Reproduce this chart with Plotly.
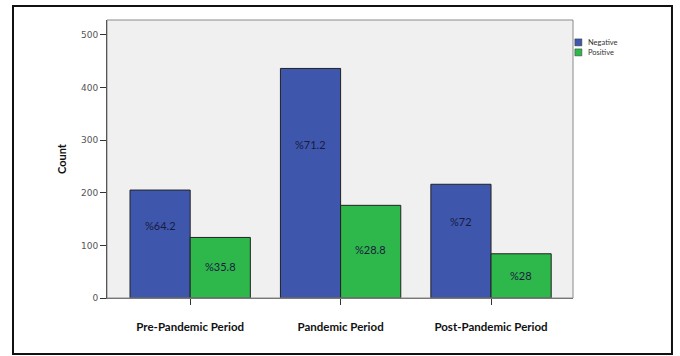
import plotly.graph_objects as go

categories = ["Pre-Pandemic Period", "Pandemic Period", "Post-Pandemic Period"]
negative = [205, 436, 216]
positive = [115, 176, 84]
neg_pct = ["%64.2", "%71.2", "%72"]
pos_pct = ["%35.8", "%28.8", "%28"]
y_ticks = [0, 100, 200, 300, 400, 500]
series_names = ["Negative", "Positive"]

BLUE = "#3E57AD"
GREEN = "#2EB84B"
colors = [BLUE, GREEN]

fig = go.Figure()
fig.add_trace(go.Bar(name=series_names[0], x=categories, y=negative, marker=dict(color=BLUE, line=dict(color="#222", width=1))))
fig.add_trace(go.Bar(name=series_names[1], x=categories, y=positive, marker=dict(color=GREEN, line=dict(color="#222", width=1))))

lbl_font = dict(family="Lato", size=11, color="#1a1a40")
for i in range(len(categories)):
    fig.add_annotation(x=i - 0.2, y=negative[i] * 0.67, text=neg_pct[i], showarrow=False, font=lbl_font)
    fig.add_annotation(x=i + 0.2, y=positive[i] * 0.52, text=pos_pct[i], showarrow=False, font=lbl_font)

# outer frame
fig.add_shape(type="rect", xref="paper", yref="paper", x0=-0.2017, x1=1.2124, y0=-0.2014, y1=1.0504,
              line=dict(color="#111", width=2), layer="below")
# plot area frame
fig.add_shape(type="rect", xref="paper", yref="paper", x0=0, x1=1, y0=0, y1=1,
              line=dict(color="#8a8a8a", width=1), layer="above")

# compact legend (SPSS style)
for k, name in enumerate(series_names):
    ytop = 0.932 - k * 0.036
    fig.add_shape(type="rect", xref="paper", yref="paper", x0=1.004, x1=1.019, y0=ytop - 0.025, y1=ytop,
                  fillcolor=colors[k], line=dict(color="#333", width=0.5))
    fig.add_annotation(xref="paper", yref="paper", x=1.028, y=ytop - 0.0125, xanchor="left", yanchor="middle",
                       text=name, showarrow=False, font=dict(family="Lato", size=7.5, color="#333"))

fig.update_layout(
    width=680, height=356,
    margin=dict(l=107, r=107, t=20, b=58, autoexpand=False),
    paper_bgcolor="white", plot_bgcolor="#F0F0F0",
    barmode="group", bargap=0.2, bargroupgap=0,
    showlegend=False,
    xaxis=dict(range=[-0.553, 2.545], showgrid=False, ticks="outside", ticklen=6, tickcolor="#333",
               tickfont=dict(family="Lato", size=11.5, color="#111", weight="bold"),
               ticklabelstandoff=12, showline=True, linecolor="#666", linewidth=1, automargin=False),
    yaxis=dict(range=[0, 528], tickvals=y_ticks, showgrid=False, zeroline=False, ticks="outside", ticklen=6,
               tickcolor="#333", tickfont=dict(family="DejaVu Sans", size=9, color="#555"),
               showline=True, linecolor="#222", linewidth=1, automargin=False,
               title=dict(text="Count", font=dict(family="Lato", size=11, color="#111", weight="bold"), standoff=12)),
)

fig.write_html("out.html", config={"displayModeBar": False},
               post_script="document.body.style.margin='0';document.body.style.overflow='hidden';")
